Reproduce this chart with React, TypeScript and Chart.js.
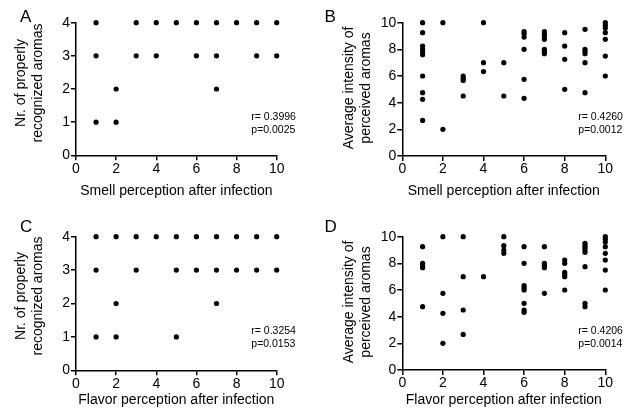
import React, { useEffect, useRef } from "react";
import { Chart, registerables } from "chart.js";

Chart.register(...registerables);

const FONT = "'Liberation Sans', Arial, Helvetica, sans-serif";

// ---- Data ----
// Panel A: smell perception vs. number of properly recognized aromas
const aSmell = [1, 1, 1, 2, 2, 3, 3, 4, 4, 5, 6, 6, 7, 7, 7, 8, 9, 9, 10, 10];
const aRecognized = [4, 3, 1, 2, 1, 4, 3, 4, 3, 4, 4, 3, 4, 3, 2, 4, 4, 3, 4, 3];

// Panel B: smell perception vs. average intensity of perceived aromas
const bSmell = [
  1, 1, 1, 1, 1, 1, 1, 1, 1, 1,
  2, 2,
  3, 3, 3, 3,
  4, 4, 4,
  5, 5,
  6, 6, 6, 6, 6, 6,
  7, 7, 7, 7, 7, 7, 7,
  8, 8, 8, 8,
  9, 9, 9, 9, 9, 9,
  10, 10, 10, 10, 10, 10, 10,
];
const bIntensity = [
  10, 9.25, 8.25, 8, 7.8, 7.6, 6, 4.75, 4.25, 2.67,
  10, 2,
  6, 5.83, 5.67, 4.5,
  10, 7, 6.33,
  7, 4.5,
  9.33, 9.17, 8.92, 8, 5.75, 4.33,
  9.33, 9.17, 9, 8.75, 8, 7.83, 7.67,
  9.25, 8.25, 7.25, 5,
  9.5, 8, 7.83, 7.67, 7, 4.75,
  10, 9.8, 9.6, 9.25, 8.75, 7.5, 6,
];

// Panel C: flavor perception vs. number of properly recognized aromas
const cFlavor = [1, 1, 1, 2, 2, 2, 3, 3, 4, 5, 5, 5, 6, 6, 7, 7, 7, 8, 8, 9, 9, 10, 10];
const cRecognized = [4, 3, 1, 4, 2, 1, 4, 3, 4, 4, 3, 1, 4, 3, 4, 3, 2, 4, 3, 4, 3, 4, 3];

// Panel D: flavor perception vs. average intensity of perceived aromas
const dFlavor = [
  1, 1, 1, 1, 1,
  2, 2, 2, 2,
  3, 3, 3, 3,
  4,
  5, 5, 5, 5,
  6, 6, 6, 6, 6, 6, 6, 6,
  7, 7, 7, 7, 7,
  8, 8, 8, 8, 8, 8,
  9, 9, 9, 9, 9, 9, 9, 9,
  10, 10, 10, 10, 10, 10, 10, 10,
];
const dIntensity = [
  9.25, 8, 7.83, 7.67, 4.75,
  10, 5.75, 4.25, 2,
  10, 7, 4.5, 2.67,
  7,
  10, 9.33, 9, 8.75,
  9.25, 8, 6.33, 6.17, 6, 5, 4.5, 4.33,
  9.25, 8, 7.83, 7.67, 5.75,
  8.25, 8, 7.33, 7.17, 7, 6,
  9.5, 9.33, 9.17, 9, 8.83, 7.75, 5, 4.75,
  10, 9.8, 9.6, 9.25, 8.75, 8.25, 7.5, 6,
];

const xTicksMax = 10;
const xStep = 2;

type Area = { left: number; right: number; top: number; bottom: number };

type PanelProps = {
  left: number;
  top: number;
  width: number;
  height: number;
  area: Area;
  xs: number[];
  ys: number[];
  yMax: number;
  yStep: number;
  xTitle: string;
};

function Panel({ left, top, width, height, area, xs, ys, yMax, yStep, xTitle }: PanelProps) {
  const ref = useRef<HTMLCanvasElement>(null);
  useEffect(() => {
    const points = xs.map((x, i) => ({ x, y: ys[i] }));
    const chart = new Chart(ref.current as HTMLCanvasElement, {
      type: "scatter",
      data: {
        datasets: [
          {
            data: points,
            backgroundColor: "#000",
            borderColor: "#000",
            borderWidth: 0,
            pointRadius: 2.6,
            pointHoverRadius: 2.6,
            clip: false,
          } as any,
        ],
      },
      options: {
        animation: false,
        responsive: false,
        maintainAspectRatio: false,
        events: [],
        layout: {
          autoPadding: false,
          padding: { left: 0, top: area.top, right: width - area.right, bottom: 0 },
        },
        plugins: { legend: { display: false }, tooltip: { enabled: false } },
        scales: {
          x: {
            type: "linear",
            min: 0,
            max: xTicksMax,
            afterFit: (s: any) => {
              s.height = height - area.bottom;
            },
            ticks: {
              stepSize: xStep,
              color: "#000",
              font: { family: FONT, size: 14 },
              padding: 0,
              maxRotation: 0,
            },
            grid: {
              drawOnChartArea: false,
              drawTicks: true,
              tickLength: 5,
              color: "#000",
              lineWidth: 1.5,
            },
            border: { display: true, color: "#000", width: 1.5 },
            title: {
              display: true,
              text: xTitle,
              color: "#000",
              font: { family: FONT, size: 14 },
              padding: { top: 0, bottom: 9 },
            },
          },
          y: {
            type: "linear",
            min: 0,
            max: yMax,
            afterFit: (s: any) => {
              s.width = area.left;
            },
            ticks: {
              stepSize: yStep,
              color: "#000",
              font: { family: FONT, size: 14 },
              padding: 1,
            },
            grid: {
              drawOnChartArea: false,
              drawTicks: true,
              tickLength: 5,
              color: "#000",
              lineWidth: 1.5,
            },
            border: { display: true, color: "#000", width: 1.5 },
          },
        },
      } as any,
    });
    return () => chart.destroy();
  }, []);
  return (
    <canvas
      ref={ref}
      width={width}
      height={height}
      style={{ position: "absolute", left, top, width, height }}
    />
  );
}

const textBase: React.CSSProperties = {
  position: "absolute",
  fontFamily: FONT,
  color: "#000",
  whiteSpace: "nowrap",
};

function YTitle({ cx, cy, lines }: { cx: number; cy: number; lines: string[] }) {
  return (
    <div
      style={{
        ...textBase,
        left: cx,
        top: cy,
        fontSize: 14,
        lineHeight: "16.5px",
        textAlign: "center",
        transform: "translate(-50%, -50%) rotate(-90deg)",
      }}
    >
      {lines.map((l, i) => (
        <div key={i}>{l}</div>
      ))}
    </div>
  );
}

function Letter({ x, y, text }: { x: number; y: number; text: string }) {
  return (
    <div style={{ ...textBase, left: x, top: y, fontSize: 17, lineHeight: "20px" }}>{text}</div>
  );
}

function Stats({ x, y, r, p }: { x: number; y: number; r: string; p: string }) {
  return (
    <div style={{ ...textBase, left: x, top: y, fontSize: 10.5, lineHeight: "13px" }}>
      <div>{r}</div>
      <div>{p}</div>
    </div>
  );
}

export default function App() {
  return (
    <div
      style={{
        position: "absolute",
        left: 0,
        top: 0,
        width: 637,
        height: 418,
        background: "#fff",
        overflow: "hidden",
      }}
    >
      <Panel
        left={0}
        top={0}
        width={318}
        height={209}
        area={{ left: 76, right: 276.7, top: 22.7, bottom: 155.3 }}
        xs={aSmell}
        ys={aRecognized}
        yMax={4}
        yStep={1}
        xTitle="Smell perception after infection"
      />
      <Panel
        left={318}
        top={0}
        width={319}
        height={209}
        area={{ left: 84.3, right: 287.3, top: 22.7, bottom: 156 }}
        xs={bSmell}
        ys={bIntensity}
        yMax={10}
        yStep={2}
        xTitle="Smell perception after infection"
      />
      <Panel
        left={0}
        top={209}
        width={318}
        height={209}
        area={{ left: 76, right: 276.7, top: 27.7, bottom: 161.3 }}
        xs={cFlavor}
        ys={cRecognized}
        yMax={4}
        yStep={1}
        xTitle="Flavor perception after infection"
      />
      <Panel
        left={318}
        top={209}
        width={319}
        height={209}
        area={{ left: 84.3, right: 287.3, top: 27.7, bottom: 161 }}
        xs={dFlavor}
        ys={dIntensity}
        yMax={10}
        yStep={2}
        xTitle="Flavor perception after infection"
      />

      <YTitle cx={28.3} cy={82.5} lines={["Nr. of properly", "recognized aromas"]} />
      <YTitle cx={356.2} cy={87.5} lines={["Average intensity of", "perceived aromas"]} />
      <YTitle cx={28.3} cy={296} lines={["Nr. of properly", "recognized aromas"]} />
      <YTitle cx={356.2} cy={301.7} lines={["Average intensity of", "perceived aromas"]} />

      <Letter x={20} y={6.5} text="A" />
      <Letter x={324.5} y={6.5} text="B" />
      <Letter x={20} y={216.5} text="C" />
      <Letter x={324.5} y={216.5} text="D" />

      <Stats x={251.3} y={109.5} r="r= 0.3996" p="p=0.0025" />
      <Stats x={578.3} y={109.5} r="r= 0.4260" p="p=0.0012" />
      <Stats x={251.3} y={324.3} r="r= 0.3254" p="p=0.0153" />
      <Stats x={578.3} y={324.3} r="r= 0.4206" p="p=0.0014" />
    </div>
  );
}
